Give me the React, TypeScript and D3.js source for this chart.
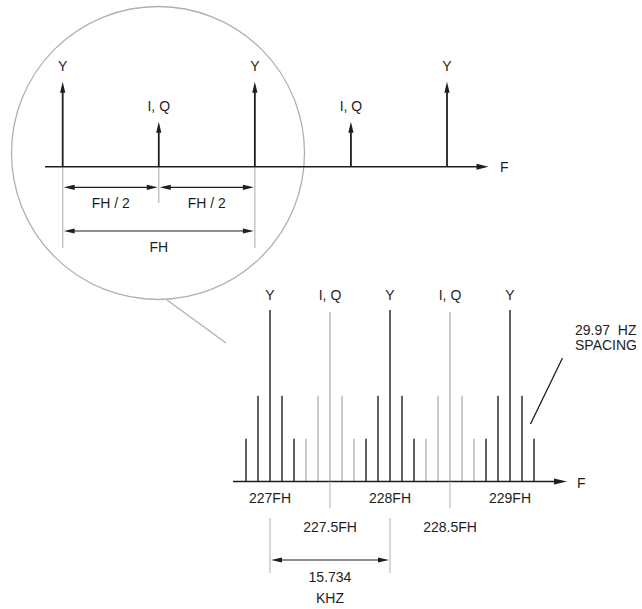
import React from 'react';
import * as d3 from 'd3';

// ---------- data ----------
// Upper (magnified) spectrum: frequency in units of FH, relative amplitude
const upperLabels = ['Y', 'I, Q', 'Y', 'I, Q', 'Y'];
const upperFreqs = [0, 0.5, 1, 1.5, 2];
const upperAmps = [1, 0.53, 1, 0.53, 1];
const upperDims = [
  { from: 0, to: 0.5, label: 'FH / 2', row: 0 },
  { from: 0.5, to: 1, label: 'FH / 2', row: 0 },
  { from: 0, to: 1, label: 'FH', row: 1 },
];

// Lower spectrum: carriers (in FH) and their 29.97 Hz sidebands
const lowerCarriers = [227, 227.5, 228, 228.5, 229];
const lowerLabels = ['Y', 'I, Q', 'Y', 'I, Q', 'Y'];
const lowerKinds = ['Y', 'IQ', 'Y', 'IQ', 'Y'];
const carrierAmps = [1, 0.99, 1, 0.99, 1];
const sidebandOffsets = [-0.2, -0.1, 0, 0.1, 0.2];
const sidebandAmps = [0.25, 0.5, 1, 0.5, 0.25];
const lowerTickLabels = ['227FH', '227.5FH', '228FH', '228.5FH', '229FH'];
const lowerTickRows = [0, 1, 0, 1, 0];
const spacingLabel = ['29.97  HZ', 'SPACING'];
const lowerDimLabel = ['15.734', 'KHZ'];

const FONT = '"Liberation Sans", Arial, Helvetica, sans-serif';
const DARK = '#1e1e1e';
const BAR_DARK = '#3a3a3a';
const GRAY = '#bdbdbd';

function arrowHead(x: number, y: number, dir: 'up' | 'left' | 'right', len = 11, hw = 2.6) {
  let pts: [number, number][];
  if (dir === 'up') pts = [[x, y], [x - hw, y + len], [x + hw, y + len]];
  else if (dir === 'right') pts = [[x, y], [x - len, y - hw], [x - len, y + hw]];
  else pts = [[x, y], [x + len, y - hw], [x + len, y + hw]];
  return pts.map((p) => p.join(',')).join(' ');
}

export default function App() {
  // upper scales
  const xU = d3.scaleLinear().domain([0, 2]).range([62.7, 447]);
  const yU = d3.scaleLinear().domain([0, 1]).range([166.7, 81.7]);
  // lower scales
  const xL = d3.scaleLinear().domain([227, 229]).range([270, 510]);
  const yL = d3.scaleLinear().domain([0, 1]).range([481.5, 310]);

  const bars: { f: number; a: number; dark: boolean }[] = [];
  lowerCarriers.forEach((c, i) => {
    sidebandOffsets.forEach((o, j) => {
      bars.push({ f: c + o, a: j === 2 ? carrierAmps[i] : sidebandAmps[j], dark: lowerKinds[i] === 'Y' });
    });
  });

  const textStyle: React.CSSProperties = { fontFamily: FONT, fontSize: 14, fill: DARK };

  return (
    <svg width={642} height={609} style={{ position: 'absolute', left: 0, top: 0, background: '#fff' }}>
      {/* magnifier circle */}
      <circle cx={158} cy={153} r={146.5} fill="none" stroke="#b0b0b0" strokeWidth={1.3} />
      <line x1={167} y1={300} x2={226} y2={343} stroke="#b0b0b0" strokeWidth={1.3} />

      {/* upper extension lines */}
      {[0, 1].map((f) => (
        <line key={'ext' + f} x1={xU(f)} x2={xU(f)} y1={yU(0)} y2={248} stroke={GRAY} strokeWidth={1.3} />
      ))}
      <line x1={xU(0.5)} x2={xU(0.5)} y1={yU(0)} y2={203} stroke={GRAY} strokeWidth={1.3} />

      {/* upper axis */}
      <line x1={45} x2={480} y1={yU(0)} y2={yU(0)} stroke={DARK} strokeWidth={1.6} />
      <polygon points={arrowHead(488.5, yU(0), 'right', 12, 3)} fill={DARK} />
      <text x={500} y={yU(0) + 5} style={textStyle}>F</text>

      {/* upper arrows */}
      {upperFreqs.map((f, i) => (
        <g key={'ua' + i}>
          <line x1={xU(f)} x2={xU(f)} y1={yU(0)} y2={yU(upperAmps[i]) + 8} stroke={DARK} strokeWidth={1.8} />
          <polygon points={arrowHead(xU(f), yU(upperAmps[i]), 'up', 11, 2.6)} fill={DARK} />
          <text x={xU(f)} y={yU(upperAmps[i]) - 11} textAnchor="middle" style={textStyle}>
            {upperLabels[i]}
          </text>
        </g>
      ))}

      {/* upper dimensions */}
      {upperDims.map((d, i) => {
        const y = d.row === 0 ? 187.3 : 231;
        const ty = d.row === 0 ? 207.5 : 252;
        const x1 = xU(d.from) + 1;
        const x2 = xU(d.to) - 1;
        return (
          <g key={'ud' + i}>
            <line x1={x1 + 6} x2={x2 - 6} y1={y} y2={y} stroke={DARK} strokeWidth={1.2} />
            <polygon points={arrowHead(x1, y, 'left', 11, 2.6)} fill={DARK} />
            <polygon points={arrowHead(x2, y, 'right', 11, 2.6)} fill={DARK} />
            <text x={(xU(d.from) + xU(d.to)) / 2} y={ty} textAnchor="middle" style={textStyle}>
              {d.label}
            </text>
          </g>
        );
      })}

      {/* lower spectrum bars */}
      {bars.map((b, i) => (
        <line
          key={'b' + i}
          x1={xL(b.f)}
          x2={xL(b.f)}
          y1={yL(0)}
          y2={yL(b.a)}
          stroke={b.dark ? BAR_DARK : GRAY}
          strokeWidth={1.6}
        />
      ))}

      {/* lower carrier labels */}
      {lowerCarriers.map((c, i) => (
        <text key={'ll' + i} x={xL(c)} y={299.5} textAnchor="middle" style={textStyle}>
          {lowerLabels[i]}
        </text>
      ))}

      {/* lower axis */}
      <line x1={233} x2={558} y1={yL(0)} y2={yL(0)} stroke={DARK} strokeWidth={1.6} />
      <polygon points={arrowHead(567, yL(0), 'right', 13, 3)} fill={DARK} />
      <text x={577} y={yL(0) + 6} style={textStyle}>F</text>

      {/* half-FH extension ticks */}
      {lowerCarriers.map((c, i) =>
        lowerTickRows[i] === 1 ? (
          <line key={'ht' + i} x1={xL(c)} x2={xL(c)} y1={yL(0)} y2={508} stroke={GRAY} strokeWidth={1.2} />
        ) : null
      )}

      {/* lower tick labels */}
      {lowerCarriers.map((c, i) => (
        <text key={'tl' + i} x={xL(c)} y={lowerTickRows[i] === 0 ? 503 : 531.5} textAnchor="middle" style={textStyle}>
          {lowerTickLabels[i]}
        </text>
      ))}

      {/* lower dimension (1 FH) */}
      {[227, 228].map((f) => (
        <line key={'le' + f} x1={xL(f)} x2={xL(f)} y1={518} y2={573} stroke={GRAY} strokeWidth={1.2} />
      ))}
      <line x1={xL(227) + 8} x2={xL(228) - 8} y1={560} y2={560} stroke={DARK} strokeWidth={1.2} />
      <polygon points={arrowHead(xL(227) + 1, 560, 'left', 11, 2.6)} fill={DARK} />
      <polygon points={arrowHead(xL(228) - 1, 560, 'right', 11, 2.6)} fill={DARK} />
      <text x={xL(227.5)} y={582} textAnchor="middle" style={textStyle}>{lowerDimLabel[0]}</text>
      <text x={xL(227.5)} y={603} textAnchor="middle" style={textStyle}>{lowerDimLabel[1]}</text>

      {/* spacing annotation */}
      <text x={575} y={335} style={{ ...textStyle, whiteSpace: 'pre' }}>{spacingLabel[0]}</text>
      <text x={575} y={349.5} style={textStyle}>{spacingLabel[1]}</text>
      <line x1={562.5} y1={358} x2={530.5} y2={424} stroke={DARK} strokeWidth={1.3} />
    </svg>
  );
}
